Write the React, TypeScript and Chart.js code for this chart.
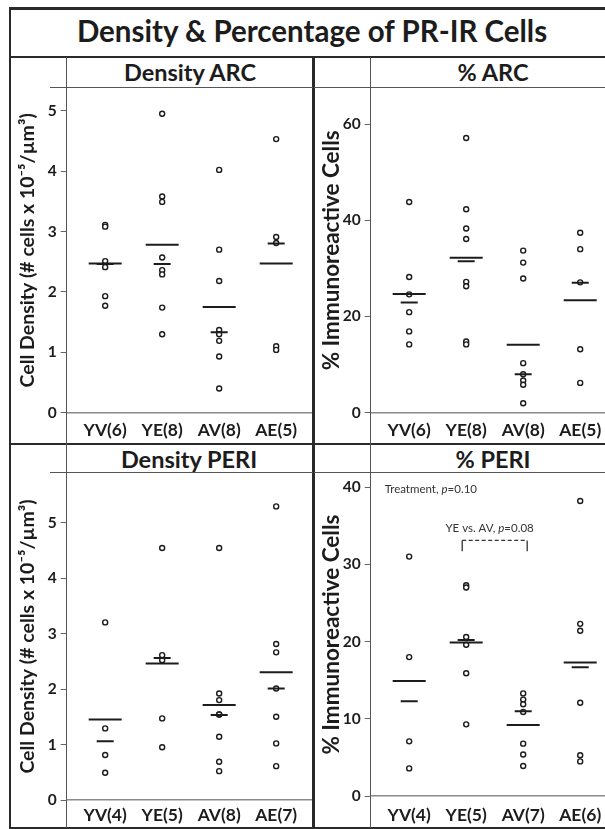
import React, { useEffect, useRef } from "react";
import { Chart, registerables } from "chart.js";

Chart.register(...registerables);

const FONT = "Lato, 'Open Sans', 'DejaVu Sans', sans-serif";
const INK = "#1c1c1c";

// ---------- data ----------
const figureTitle = "Density & Percentage of PR-IR Cells";

const densityArcTitle = "Density ARC";
const densityArcLabels = ["YV(6)", "YE(8)", "AV(8)", "AE(5)"];
const densityArcPoints = [
  [3.11, 3.08, 2.51, 2.41, 1.93, 1.77],
  [4.95, 3.58, 3.49, 2.57, 2.36, 2.29, 1.74, 1.3],
  [4.02, 2.7, 2.18, 1.37, 1.3, 1.19, 0.93, 0.4],
  [4.53, 2.91, 2.81, 1.1, 1.04],
];
const densityArcMeans = [2.47, 2.78, 1.75, 2.47];
const densityArcMedians = [2.46, 2.46, 1.33, 2.8];

const pctArcTitle = "% ARC";
const pctArcLabels = ["YV(6)", "YE(8)", "AV(8)", "AE(5)"];
const pctArcPoints = [
  [43.8, 28.2, 24.6, 20.9, 16.9, 14.2],
  [57.1, 42.3, 38.3, 36.1, 27.2, 26.3, 14.8, 14.2],
  [33.7, 31.2, 27.9, 10.3, 8.0, 6.7, 5.8, 1.95],
  [37.4, 34.0, 27.1, 13.2, 6.2],
];
const pctArcMeans = [24.7, 32.2, 14.1, 23.4];
const pctArcMedians = [22.9, 31.5, 8.0, 27.0];

const densityPeriTitle = "Density PERI";
const densityPeriLabels = ["YV(4)", "YE(5)", "AV(8)", "AE(7)"];
const densityPeriPoints = [
  [3.2, 1.29, 0.81, 0.49],
  [4.54, 2.61, 2.52, 1.47, 0.95],
  [4.54, 1.92, 1.8, 1.54, 1.54, 1.14, 0.69, 0.52],
  [5.29, 2.81, 2.66, 2.01, 1.5, 1.02, 0.61],
];
const densityPeriMeans = [1.45, 2.46, 1.71, 2.3];
const densityPeriMedians = [1.06, 2.56, 1.53, 2.01];

const pctPeriTitle = "% PERI";
const pctPeriLabels = ["YV(4)", "YE(5)", "AV(7)", "AE(6)"];
const pctPeriPoints = [
  [31.0, 18.0, 7.1, 3.6],
  [27.3, 27.0, 20.6, 19.6, 15.9, 9.3],
  [13.3, 12.5, 11.9, 10.9, 6.8, 5.4, 3.9],
  [38.2, 22.3, 21.4, 12.1, 5.3, 4.5],
];
const pctPeriMeans = [14.9, 19.9, 9.2, 17.3];
const pctPeriMedians = [12.3, 20.2, 11.0, 16.7];

const treatmentNote = ["Treatment, ", "p", "=0.10"];
const comparisonNote = ["YE vs. AV, ", "p", "=0.08"];
const comparisonPair = [2, 3];
const comparisonBracketY = [31.7, 33.1];

const densityYTitle = "Cell Density (# cells x 10\u207B\u2075/\u00B5m\u00B3)";
const pctYTitle = "% Immunoreactive Cells";

// ---------- layout ----------
type PanelSpec = {
  left: number;
  top: number;
  width: number;
  height: number;
  yAxisWidth: number;
  xAxisHeight: number;
  xMin: number;
  xMax: number;
  yMax: number;
  yStep: number;
  yTitle: string;
  yTitleSize: number;
  titlePad: number;
  labelPad: number;
  labels: string[];
  points: number[][];
  means: number[];
  medians: number[];
  notes?: boolean;
};

const panels: PanelSpec[] = [
  {
    left: 11, top: 88, width: 302, height: 354,
    yAxisWidth: 55.7, xAxisHeight: 29.3,
    xMin: 0.325, xMax: 4.646, yMax: 5.376, yStep: 1,
    yTitle: densityYTitle, yTitleSize: 19.5, titlePad: 5.3, labelPad: 7,
    labels: densityArcLabels, points: densityArcPoints,
    means: densityArcMeans, medians: densityArcMedians,
  },
  {
    left: 315, top: 88, width: 290, height: 354,
    yAxisWidth: 55.7, xAxisHeight: 29.3,
    xMin: 0.325, xMax: 4.435, yMax: 67.5, yStep: 20,
    yTitle: pctYTitle, yTitleSize: 22.5, titlePad: 3.2, labelPad: 7,
    labels: pctArcLabels, points: pctArcPoints,
    means: pctArcMeans, medians: pctArcMedians,
  },
  {
    left: 11, top: 473, width: 302, height: 354,
    yAxisWidth: 55.7, xAxisHeight: 27,
    xMin: 0.325, xMax: 4.646, yMax: 5.892, yStep: 1,
    yTitle: densityYTitle, yTitleSize: 19.5, titlePad: 5.3, labelPad: 4.5,
    labels: densityPeriLabels, points: densityPeriPoints,
    means: densityPeriMeans, medians: densityPeriMedians,
  },
  {
    left: 315, top: 473, width: 290, height: 354,
    yAxisWidth: 55.7, xAxisHeight: 30.8,
    xMin: 0.325, xMax: 4.435, yMax: 41.82, yStep: 10,
    yTitle: pctYTitle, yTitleSize: 22.5, titlePad: 3.2, labelPad: 8.3,
    labels: pctPeriLabels, points: pctPeriPoints,
    means: pctPeriMeans, medians: pctPeriMedians,
    notes: true,
  },
];

function drawRich(ctx: CanvasRenderingContext2D, parts: string[], x: number, y: number, align: "left" | "center", size: number) {
  const fonts = [`${size}px ${FONT}`, `italic ${size}px ${FONT}`, `${size}px ${FONT}`];
  let total = 0;
  const widths = parts.map((p, i) => {
    ctx.font = fonts[i];
    const w = ctx.measureText(p).width;
    total += w;
    return w;
  });
  let cx = align === "center" ? x - total / 2 : x;
  ctx.textAlign = "left";
  parts.forEach((p, i) => {
    ctx.font = fonts[i];
    ctx.fillText(p, cx, y);
    cx += widths[i];
  });
}

const notesPlugin = {
  id: "notes",
  afterDatasetsDraw(chart: any) {
    const { ctx } = chart;
    const xs = chart.scales.x;
    const ys = chart.scales.y;
    ctx.save();
    ctx.fillStyle = "#333";
    ctx.textBaseline = "middle";
    drawRich(ctx, treatmentNote, xs.getPixelForValue(0.57), ys.getPixelForValue(39.7), "left", 11.5);
    drawRich(ctx, comparisonNote, xs.getPixelForValue(2.41), ys.getPixelForValue(34.65), "center", 11.5);
    const x1 = xs.getPixelForValue(comparisonPair[0] - 0.07);
    const x2 = xs.getPixelForValue(comparisonPair[1] + 0.07);
    const yLow = ys.getPixelForValue(comparisonBracketY[0]);
    const yHigh = ys.getPixelForValue(comparisonBracketY[1]);
    ctx.strokeStyle = "#333";
    ctx.lineWidth = 1.3;
    ctx.beginPath();
    ctx.moveTo(x1, yLow);
    ctx.lineTo(x1, yHigh);
    ctx.moveTo(x2, yLow);
    ctx.lineTo(x2, yHigh);
    ctx.stroke();
    ctx.setLineDash([4, 2.5]);
    ctx.beginPath();
    ctx.moveTo(x1, yHigh);
    ctx.lineTo(x2, yHigh);
    ctx.stroke();
    ctx.restore();
  },
};

function Panel({ spec }: { spec: PanelSpec }) {
  const ref = useRef<HTMLCanvasElement | null>(null);
  useEffect(() => {
    if (!ref.current) return;
    const pointData = spec.points.flatMap((g, i) => g.map((v) => ({ x: i + 1, y: v })));
    const meanData = spec.means.map((m, i) => ({ x: i + 1, y: m }));
    const medianData = spec.medians.map((m, i) => ({ x: i + 1, y: m }));
    const tickFont = { family: FONT, weight: "bold" as const };
    const chart = new Chart(ref.current, {
      type: "scatter",
      data: {
        datasets: [
          {
            data: meanData,
            pointStyle: "line",
            pointRadius: 16.5,
            pointBorderWidth: 2,
            pointBorderColor: INK,
            pointBackgroundColor: INK,
            showLine: false,
          },
          {
            data: medianData,
            pointStyle: "line",
            pointRadius: 8.5,
            pointBorderWidth: 2,
            pointBorderColor: INK,
            pointBackgroundColor: INK,
            showLine: false,
          },
          {
            data: pointData,
            pointStyle: "circle",
            pointRadius: 2.5,
            pointBorderWidth: 1.4,
            pointBorderColor: INK,
            pointBackgroundColor: "#ffffff",
            showLine: false,
          },
        ],
      },
      options: {
        responsive: false,
        animation: false,
        events: [],
        layout: { padding: 0, autoPadding: false },
        plugins: {
          legend: { display: false },
          tooltip: { enabled: false },
          title: { display: false },
        },
        scales: {
          x: {
            type: "linear",
            position: "bottom",
            min: spec.xMin,
            max: spec.xMax,
            grid: { display: false, drawTicks: false },
            border: { display: true, color: "#8a8a8a", width: 1.5 },
            ticks: {
              stepSize: 1,
              includeBounds: false,
              autoSkip: false,
              maxRotation: 0,
              padding: spec.labelPad,
              color: INK,
              font: { ...tickFont, size: 17.5 },
              callback: (v: any) => spec.labels[Number(v) - 1] ?? "",
            },
            afterFit: (s: any) => {
              s.height = spec.xAxisHeight;
              s.paddingLeft = 0;
              s.paddingRight = 0;
            },
          },
          y: {
            type: "linear",
            min: 0,
            max: spec.yMax,
            grid: { display: true, drawOnChartArea: false, drawTicks: true, tickLength: 6, color: "#666", lineWidth: 1 },
            border: { display: false },
            ticks: {
              stepSize: spec.yStep,
              includeBounds: false,
              padding: 4,
              color: INK,
              font: { ...tickFont, size: 15.5 },
            },
            title: {
              display: true,
              text: spec.yTitle,
              color: INK,
              font: { family: FONT, size: spec.yTitleSize, weight: "bold" },
              padding: { top: spec.titlePad, bottom: 0 },
            },
            afterFit: (s: any) => {
              s.width = spec.yAxisWidth;
              s.paddingTop = 0;
              s.paddingBottom = 0;
            },
          },
        },
      } as any,
      plugins: spec.notes ? [notesPlugin as any] : [],
    });
    return () => chart.destroy();
  }, [spec]);
  return (
    <canvas
      ref={ref}
      width={spec.width}
      height={spec.height}
      style={{ position: "absolute", left: spec.left, top: spec.top, width: spec.width, height: spec.height }}
    />
  );
}

function Line({ l, t, w, h, c }: { l: number; t: number; w: number; h: number; c: string }) {
  return <div style={{ position: "absolute", left: l, top: t, width: w, height: h, background: c }} />;
}

function PanelTitle({ text, cx, cy }: { text: string; cx: number; cy: number }) {
  return (
    <div
      style={{
        position: "absolute",
        left: cx - 150,
        width: 300,
        top: cy - 15,
        height: 30,
        lineHeight: "30px",
        textAlign: "center",
        fontWeight: 700,
        fontSize: 23.5,
        color: INK,
        whiteSpace: "nowrap",
      }}
    >
      {text}
    </div>
  );
}

export default function App() {
  const dark = "#2a2a2a";
  const mid = "#555";
  return (
    <div
      style={{
        position: "absolute",
        left: 0,
        top: 0,
        width: 605,
        height: 829,
        background: "#fff",
        overflow: "hidden",
        fontFamily: FONT,
      }}
    >
      <div
        style={{
          position: "absolute",
          left: 10,
          width: 604,
          top: 8,
          height: 46,
          lineHeight: "46px",
          textAlign: "center",
          fontWeight: 700,
          fontSize: 29.5,
          color: INK,
          whiteSpace: "nowrap",
        }}
      >
        {figureTitle}
      </div>
      <PanelTitle text={densityArcTitle} cx={190} cy={72} />
      <PanelTitle text={pctArcTitle} cx={493} cy={72} />
      <PanelTitle text={densityPeriTitle} cx={189} cy={458.5} />
      <PanelTitle text={pctPeriTitle} cx={493} cy={458.5} />

      {panels.map((p, i) => (
        <Panel key={i} spec={p} />
      ))}

      {/* outer frame and grid */}
      <Line l={8.5} t={7} w={2.5} h={822} c={dark} />
      <Line l={8.5} t={7} w={597} h={2.5} c={dark} />
      <Line l={8.5} t={826.5} w={597} h={2.5} c={dark} />
      <Line l={8.5} t={55.7} w={597} h={2} c={dark} />
      <Line l={8.5} t={442.5} w={597} h={2.3} c={dark} />
      <Line l={312.3} t={56} w={2.3} h={772} c={dark} />
      {/* axis verticals */}
      <Line l={66.2} t={57} w={1} h={771} c={mid} />
      <Line l={370.2} t={57} w={1} h={771} c={mid} />
      {/* panel title underlines */}
      <Line l={50} t={87.2} w={263} h={1} c={mid} />
      <Line l={314} t={87.2} w={291} h={1} c={mid} />
      <Line l={50} t={472.2} w={263} h={1} c={mid} />
      <Line l={314} t={472.2} w={291} h={1} c={mid} />
    </div>
  );
}
